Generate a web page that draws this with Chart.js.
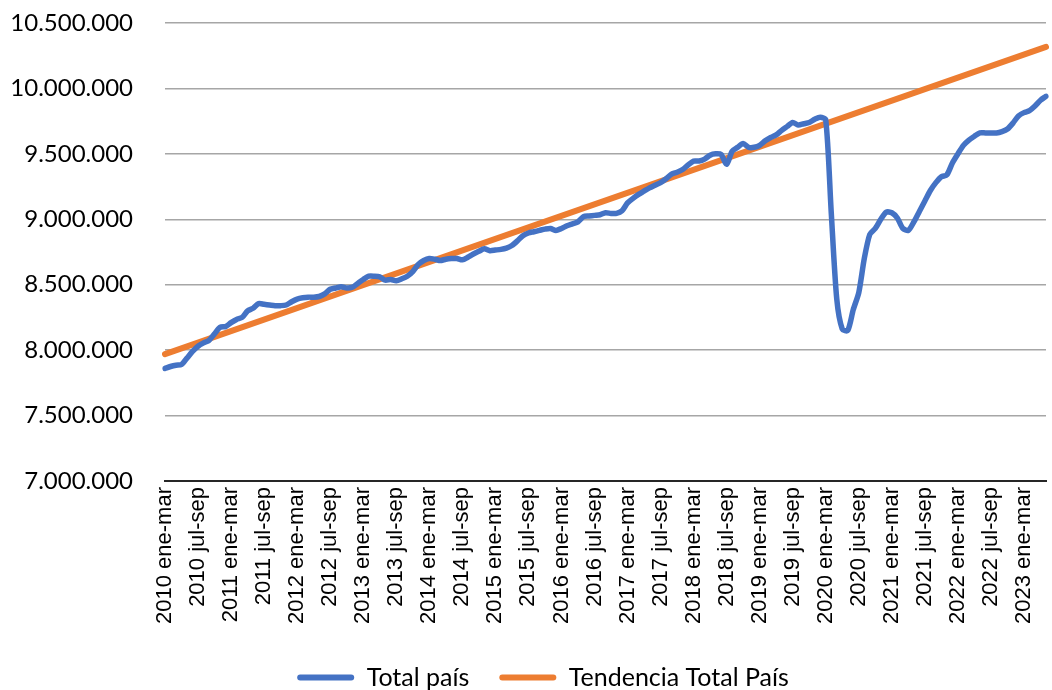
<!DOCTYPE html>
<html>
<head>
<meta charset="utf-8">
<script src="https://cdn.jsdelivr.net/npm/chart.js@4.4.0/dist/chart.umd.min.js"></script>
<style>
  html, body { margin: 0; padding: 0; background: #fff; }
  #wrap { width: 1052px; height: 690px; }
</style>
</head>
<body>
<div id="wrap"><canvas id="chart" width="1052" height="690"></canvas></div>
<script>
// rolling quarters, 2010 ene-mar .. 2023 may-jul
const years = [2010, 2011, 2012, 2013, 2014, 2015, 2016, 2017, 2018, 2019, 2020, 2021, 2022, 2023];
const quarters = ['ene-mar', 'feb-abr', 'mar-may', 'abr-jun', 'may-jul', 'jun-ago',
                  'jul-sep', 'ago-oct', 'sep-nov', 'oct-dic', 'nov-ene', 'dic-feb'];

const totalPais = [
    7860000, 7875000, 7885000, 7890000, 7940000, 7990000, 8030000, 8055000, 8075000, 8125000, 8175000, 8180000,
    8210000, 8235000, 8250000, 8300000, 8320000, 8355000, 8350000, 8345000, 8340000, 8340000, 8345000, 8370000,
    8390000, 8400000, 8405000, 8405000, 8410000, 8430000, 8465000, 8475000, 8485000, 8475000, 8480000, 8510000,
    8540000, 8565000, 8565000, 8560000, 8535000, 8540000, 8530000, 8545000, 8565000, 8600000, 8655000, 8685000,
    8700000, 8695000, 8685000, 8695000, 8700000, 8700000, 8690000, 8710000, 8735000, 8755000, 8775000, 8760000,
    8765000, 8770000, 8780000, 8800000, 8835000, 8875000, 8895000, 8905000, 8915000, 8925000, 8930000, 8915000,
    8930000, 8950000, 8965000, 8980000, 9020000, 9025000, 9030000, 9035000, 9050000, 9045000, 9045000, 9065000,
    9125000, 9160000, 9190000, 9215000, 9240000, 9260000, 9280000, 9310000, 9345000, 9360000, 9380000, 9415000,
    9445000, 9445000, 9460000, 9490000, 9500000, 9495000, 9420000, 9520000, 9550000, 9580000, 9550000, 9550000,
    9565000, 9600000, 9625000, 9645000, 9680000, 9710000, 9740000, 9720000, 9730000, 9740000, 9765000, 9780000,
    9760000, 9050000, 8390000, 8160000, 8150000, 8310000, 8440000, 8700000, 8885000, 8930000, 9000000, 9055000,
    9050000, 9010000, 8930000, 8915000, 8980000, 9060000, 9140000, 9220000, 9280000, 9325000, 9340000, 9430000,
    9500000, 9565000, 9605000, 9635000, 9660000, 9660000, 9660000, 9660000, 9670000, 9690000, 9735000, 9790000,
    9815000, 9830000, 9865000, 9910000, 9940000
];

// linear trend, read at both ends of the period
const trendStart = 7969000;
const trendEnd = 10317000;

const yTicks = [7000000, 7500000, 8000000, 8500000, 9000000, 9500000, 10000000, 10500000];

const labels = [];
years.forEach(y => quarters.forEach(q => labels.push(y + ' ' + q)));
labels.length = totalPais.length;

const fmt = v => String(v).replace(/\B(?=(\d{3})+(?!\d))/g, '.');

const BLUE = '#4472C4';
const ORANGE = '#ED7D31';

// put the legend row where the reference has it
const legendShift = {
    id: 'legendShift',
    afterLayout(chart) {
        const L = chart.legend;
        if (!L) return;
        const h = L.bottom - L.top;
        L.top = 635;
        L.bottom = 635 + h;
        L.left += 20;
        L.right += 20;
    }
};

new Chart(document.getElementById('chart'), {
    type: 'line',
    data: {
        labels: labels,
        datasets: [{
            label: 'Total país',
            data: totalPais,
            borderColor: BLUE,
            backgroundColor: BLUE,
            borderWidth: 5.5,
            tension: 0.25,
            pointRadius: 0,
            borderCapStyle: 'round',
            borderJoinStyle: 'round'
        }, {
            label: 'Tendencia Total País',
            data: [
                { x: labels[0], y: trendStart },
                { x: labels[labels.length - 1], y: trendEnd }
            ],
            borderColor: ORANGE,
            backgroundColor: ORANGE,
            borderWidth: 6,
            pointRadius: 0,
            borderCapStyle: 'round'
        }]
    },
    plugins: [legendShift],
    options: {
        responsive: false,
        animation: false,
        devicePixelRatio: 1,
        layout: { padding: { left: 0, right: 6, top: 23, bottom: 0 } },
        scales: {
            x: {
                offset: false,
                grid: { display: false, drawTicks: false },
                border: { display: true, color: '#262626', width: 2 },
                ticks: {
                    autoSkip: false,
                    maxRotation: 90,
                    minRotation: 90,
                    padding: 6,
                    color: '#000',
                    font: { family: 'Liberation Sans', size: 22 },
                    callback: (v, i) => (i % 6 === 0 ? labels[i] : '')
                },
                afterFit: s => { s.height = 144; s.paddingLeft = 0; s.paddingRight = 0; }
            },
            y: {
                min: yTicks[0],
                max: yTicks[yTicks.length - 1],
                afterBuildTicks: s => { s.ticks = yTicks.map(v => ({ value: v })); },
                grid: {
                    drawTicks: false,
                    lineWidth: 1.5,
                    color: c => (c.tick && c.tick.value === yTicks[0] ? '#262626' : '#A6A6A6')
                },
                border: { display: false },
                ticks: {
                    padding: 32,
                    color: '#000',
                    font: { family: 'Lato', size: 24 },
                    callback: v => fmt(v)
                },
                afterFit: s => { s.width = 165; s.paddingTop = 0; s.paddingBottom = 0; }
            }
        },
        plugins: {
            tooltip: { enabled: false },
            legend: {
                position: 'bottom',
                labels: {
                    boxWidth: 57,
                    boxHeight: 6,
                    padding: 30,
                    color: '#000',
                    useBorderRadius: true,
                    borderRadius: 3,
                    font: { family: 'Lato', size: 25 },
                    generateLabels: chart => Chart.defaults.plugins.legend.labels.generateLabels(chart)
                        .map(l => Object.assign(l, { lineWidth: 0, fillStyle: l.strokeStyle }))
                }
            }
        }
    }
});
</script>
</body>
</html>
